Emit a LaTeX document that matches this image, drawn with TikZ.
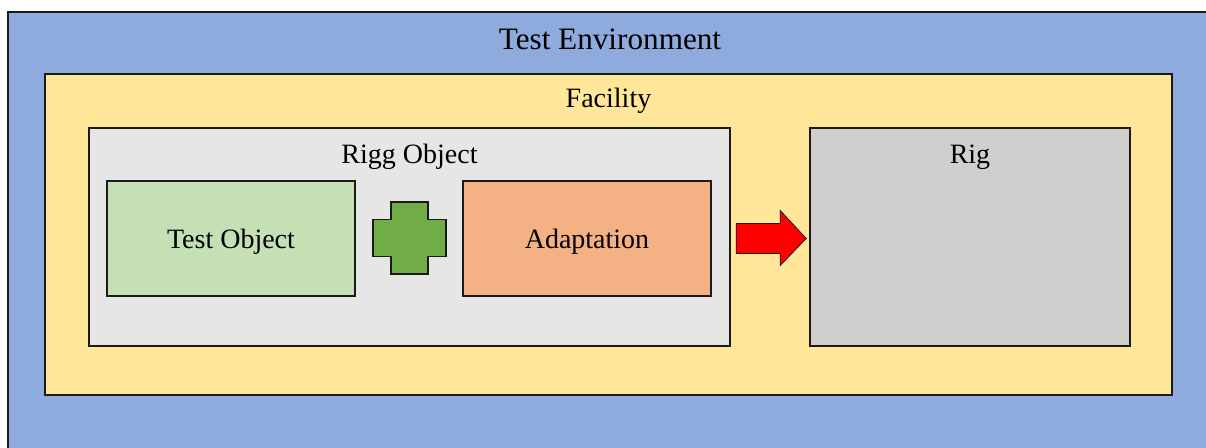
\documentclass[tikz,border=0pt]{standalone}
\usepackage{fontspec}
\setmainfont{Liberation Serif}
\usepackage{xcolor}
\usepackage{tikz}
\usetikzlibrary{calc}
\definecolor{border}{HTML}{1A1A1A}
\definecolor{envblue}{HTML}{8FAADC}
\definecolor{facyellow}{HTML}{FFE699}
\definecolor{riggray}{HTML}{E7E6E6}
\definecolor{objgreen}{HTML}{C5E0B4}
\definecolor{adaptorange}{HTML}{F4B183}
\definecolor{riggrey}{HTML}{D0CECE}
\definecolor{plusgreen}{HTML}{70AD47}
\definecolor{arrowred}{HTML}{FF0000}
\tikzset{
  box/.style={draw=border, line width=0.8pt, rectangle, inner sep=0pt},
  part/.style={box, minimum width=124pt, minimum height=57.5pt,
    text height=12pt, text depth=1.5pt, font=\fontsize{14}{16}\selectfont},
  title/.style={anchor=base, font=\fontsize{14}{16}\selectfont, inner sep=0pt}
}
\begin{document}
\begin{tikzpicture}[x=0.5pt, y=-0.5pt]
  \useasboundingbox (0,0) rectangle (1206,448);
  \clip (0,0) rectangle (1206,448);
  \node[box, fill=envblue, minimum width=602pt, minimum height=225pt] (env) at (610,237) {};
  \node[box, fill=facyellow, minimum width=563.5pt, minimum height=160.5pt] (fac) at (608.5,234.5) {};
  \node[box, fill=riggray, minimum width=320.5pt, minimum height=109pt] (rigg) at (409.5,237) {};
  \node[box, fill=riggrey, minimum width=160pt, minimum height=109pt] (rig) at (970,237) {};
  \node[part, fill=objgreen] (obj) at (231,238.5) {Test Object};
  \node[part, fill=adaptorange] (adapt) at (587,238.5) {Adaptation};
  % titles
  \node[title, font=\fontsize{15.6}{18}\selectfont] (envtitle) at ($(env.north)+(0,38)$) {Test Environment};
  \node[title] (factitle) at ($(fac.north)+(0,34)$) {Facility};
  \node[title] (riggtitle) at ($(rigg.north)+(0,36)$) {Rigg Object};
  \node[title] (rigtitle) at ($(rig.north)+(0,36)$) {Rig};
  % plus between object and adaptation
  \begin{scope}[shift={(409.5,238)}]
    \draw[border, line width=0.9pt, fill=plusgreen]
      (-18.5,-36) -- (18.5,-36) -- (18.5,-18.5) -- (36.5,-18.5) -- (36.5,18.5)
      -- (18.5,18.5) -- (18.5,36) -- (-18.5,36) -- (-18.5,18.5) -- (-36.5,18.5)
      -- (-36.5,-18.5) -- (-18.5,-18.5) -- cycle;
  \end{scope}
  % arrow from rigg object to rig
  \coordinate (tip) at (rig.west |- obj.center);
  \draw[border, line width=0.4pt, fill=arrowred]
    ($(tip)+(-73,-15)$) -- ($(tip)+(-29,-15)$) -- ($(tip)+(-29,-28)$) -- ($(tip)+(-3,0)$)
    -- ($(tip)+(-29,27)$) -- ($(tip)+(-29,15)$) -- ($(tip)+(-73,15)$) -- cycle;
\end{tikzpicture}
\end{document}
